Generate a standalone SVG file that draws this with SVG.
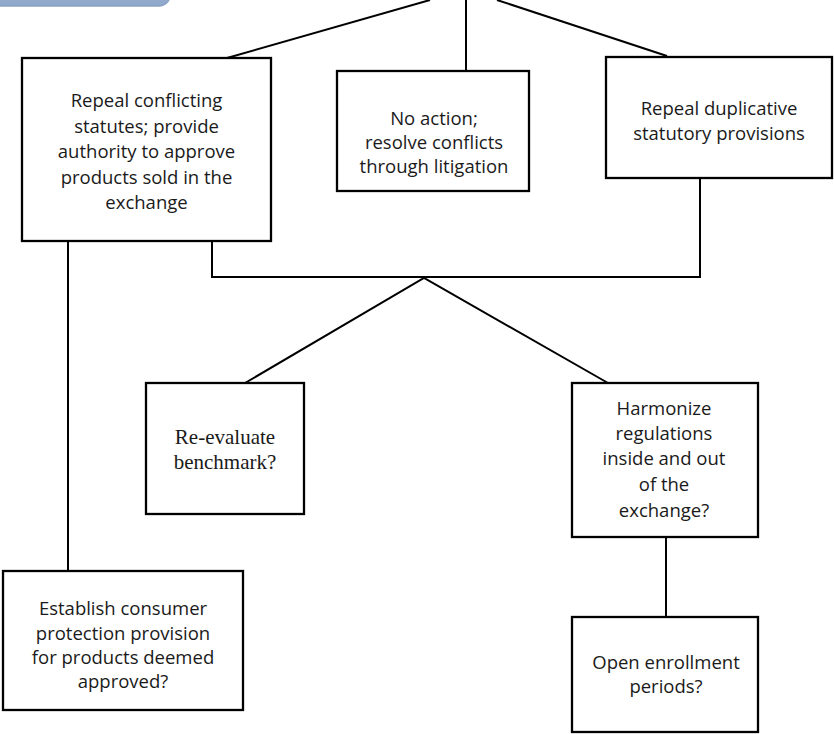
<svg xmlns="http://www.w3.org/2000/svg" width="834" height="734" viewBox="0 0 834 734">
<defs>
<linearGradient id="blue" x1="0" y1="0" x2="0" y2="1"><stop offset="0" stop-color="#a9bfdc"/><stop offset="1" stop-color="#8ea8cb"/></linearGradient>
<style>
.box{fill:#fff;stroke:#000;stroke-width:2.3}
.t{font-family:"Open Sans","Noto Sans",sans-serif;font-size:18.5px;fill:#1a1a1a;text-anchor:middle}
.s{font-family:"Liberation Serif","Times New Roman",serif;font-size:21px;fill:#1a1a1a;text-anchor:middle}
.c{fill:none;stroke:#000;stroke-width:2}
</style>
</defs>
<g id="top-node"><rect x="-30" y="-40" width="200" height="46" rx="11" fill="url(#blue)" stroke="#8aa3c5" stroke-width="1.5"/></g>
<g id="connectors">
<line class="c" x1="227" y1="58" x2="430" y2="0"/>
<line class="c" x1="466" y1="71" x2="466" y2="0"/>
<line class="c" x1="667" y1="56" x2="497" y2="0"/>
<line class="c" x1="68" y1="241" x2="68" y2="571"/>
<polyline class="c" points="212,241 212,277 700,277 700,178"/>
<polyline class="c" points="245,383 424,278 608,383" stroke-width="1.8"/>
<line class="c" x1="666" y1="537" x2="666" y2="617"/>
</g>
<g id="n1"><rect class="box" x="22" y="58" width="249" height="183"/>
<text class="t" x="146.5" y="107">Repeal conflicting</text>
<text class="t" x="146.5" y="132.5">statutes; provide</text>
<text class="t" x="146.5" y="158">authority to approve</text>
<text class="t" x="146.5" y="183.5">products sold in the</text>
<text class="t" x="146.5" y="209">exchange</text></g>
<g id="n2"><rect class="box" x="337" y="71" width="192" height="120"/>
<text class="t" x="434" y="125">No action;</text>
<text class="t" x="434" y="149">resolve conflicts</text>
<text class="t" x="434" y="173">through litigation</text></g>
<g id="n3"><rect class="box" x="606" y="57" width="226" height="121"/>
<text class="t" x="719" y="115">Repeal duplicative</text>
<text class="t" x="719" y="140">statutory provisions</text></g>
<g id="n4"><rect class="box" x="146" y="383" width="158" height="131"/>
<text class="s" x="225" y="444">Re-evaluate</text>
<text class="s" x="225" y="469">benchmark?</text></g>
<g id="n5"><rect class="box" x="572" y="383" width="186" height="154"/>
<text class="t" x="664" y="415">Harmonize</text>
<text class="t" x="664" y="440">regulations</text>
<text class="t" x="664" y="465">inside and out</text>
<text class="t" x="664" y="491">of the</text>
<text class="t" x="664" y="517">exchange?</text></g>
<g id="n6"><rect class="box" x="3" y="571" width="240" height="139"/>
<text class="t" x="123" y="615">Establish consumer</text>
<text class="t" x="123" y="640">protection provision</text>
<text class="t" x="123" y="664">for products deemed</text>
<text class="t" x="123" y="688">approved?</text></g>
<g id="n7"><rect class="box" x="572" y="617" width="186" height="115"/>
<text class="t" x="666" y="669">Open enrollment</text>
<text class="t" x="666" y="693">periods?</text></g>
</svg>
